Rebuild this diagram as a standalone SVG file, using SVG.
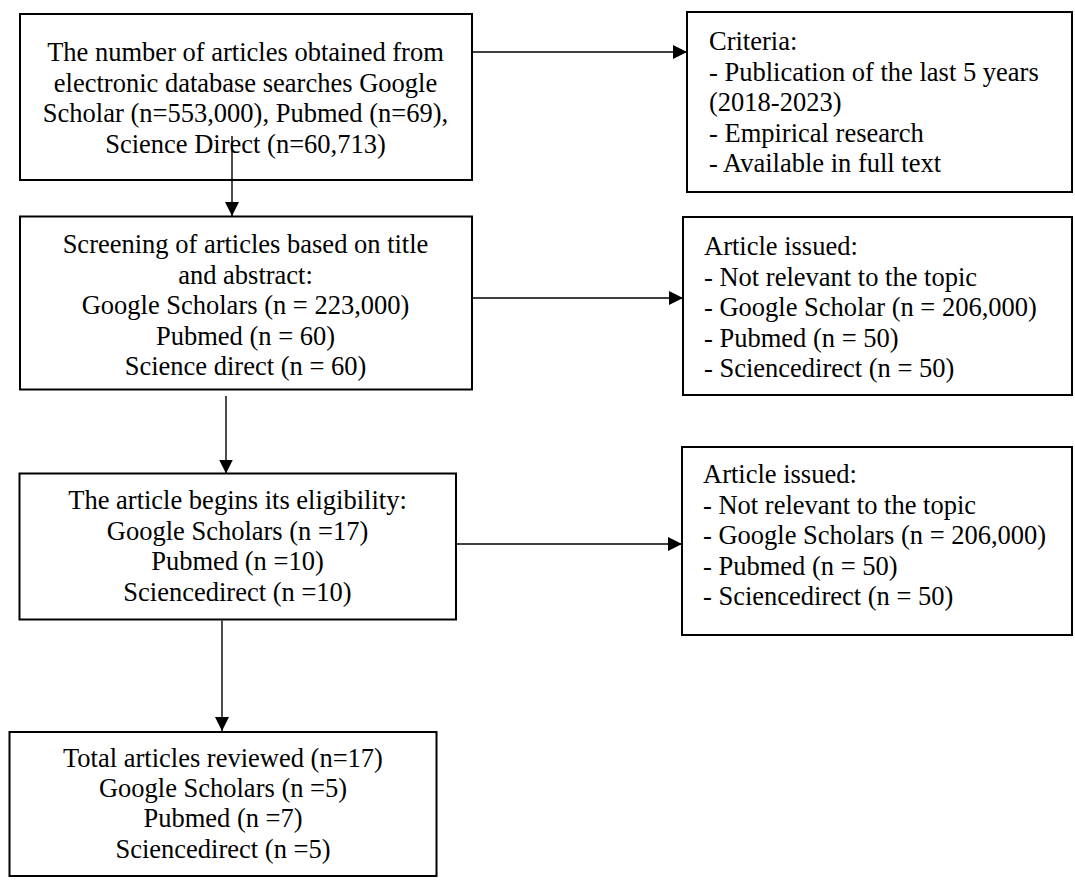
<svg xmlns="http://www.w3.org/2000/svg" width="1075" height="880" viewBox="0 0 1075 880">
<style>
.box{fill:#fff;stroke:#000;stroke-width:2}
.t{font-family:"Liberation Serif","Times New Roman",serif;font-size:26.5px;fill:#000}
.c{text-anchor:middle}
.ln{stroke:#000;stroke-width:1.4;fill:none;marker-end:url(#ah)}
</style>
<defs>
<marker id="ah" markerUnits="userSpaceOnUse" markerWidth="15" markerHeight="14" refX="14" refY="7" orient="auto">
<path d="M0,0 L14,7 L0,14 Z" fill="#000"/>
</marker>
</defs>
<rect width="1075" height="880" fill="#fff"/>
<g id="n1">
<rect class="box" x="20" y="14" width="452" height="166"/>
<text class="t c" x="245.5" y="61">The number of articles obtained from</text>
<text class="t c" x="245.5" y="91.5">electronic database searches Google</text>
<text class="t c" x="245.5" y="122">Scholar (n=553,000), Pubmed (n=69),</text>
<text class="t c" x="245.5" y="152.5">Science Direct (n=60,713)</text>
</g>
<g id="n2">
<rect class="box" x="687" y="12" width="385" height="180"/>
<text class="t" x="709" y="50">Criteria:</text>
<text class="t" x="709" y="80.5">- Publication of the last 5 years</text>
<text class="t" x="709" y="111">(2018-2023)</text>
<text class="t" x="709" y="141.5">- Empirical research</text>
<text class="t" x="709" y="172">- Available in full text</text>
</g>
<g id="n3">
<rect class="box" x="20" y="216.5" width="452" height="173"/>
<text class="t c" x="245.5" y="253">Screening of articles based on title</text>
<text class="t c" x="245.5" y="283.5">and abstract:</text>
<text class="t c" x="245.5" y="314">Google Scholars (n = 223,000)</text>
<text class="t c" x="245.5" y="344.5">Pubmed (n = 60)</text>
<text class="t c" x="245.5" y="375">Science direct (n = 60)</text>
</g>
<g id="n4">
<rect class="box" x="683" y="217" width="389" height="178"/>
<text class="t" x="704" y="255">Article issued:</text>
<text class="t" x="704" y="285.5">- Not relevant to the topic</text>
<text class="t" x="704" y="316">- Google Scholar (n = 206,000)</text>
<text class="t" x="704" y="346.5">- Pubmed (n = 50)</text>
<text class="t" x="704" y="377">- Sciencedirect (n = 50)</text>
</g>
<g id="n5">
<rect class="box" x="19.5" y="473.5" width="436.5" height="146"/>
<text class="t c" x="237.5" y="508.5">The article begins its eligibility:</text>
<text class="t c" x="237.5" y="539.5">Google Scholars (n =17)</text>
<text class="t c" x="237.5" y="570">Pubmed (n =10)</text>
<text class="t c" x="237.5" y="601">Sciencedirect (n =10)</text>
</g>
<g id="n6">
<rect class="box" x="682" y="447" width="390" height="188"/>
<text class="t" x="703" y="483">Article issued:</text>
<text class="t" x="703" y="513.5">- Not relevant to the topic</text>
<text class="t" x="703" y="544">- Google Scholars (n = 206,000)</text>
<text class="t" x="703" y="574.5">- Pubmed (n = 50)</text>
<text class="t" x="703" y="605">- Sciencedirect (n = 50)</text>
</g>
<g id="n7">
<rect class="box" x="9.5" y="732" width="427" height="144"/>
<text class="t c" x="223" y="766.5">Total articles reviewed (n=17)</text>
<text class="t c" x="223" y="797">Google Scholars (n =5)</text>
<text class="t c" x="223" y="827">Pubmed (n =7)</text>
<text class="t c" x="223" y="857.5">Sciencedirect (n =5)</text>
</g>
<g id="connectors">
<line class="ln" x1="473" y1="52" x2="687" y2="52"/>
<line class="ln" x1="232" y1="136" x2="232" y2="216"/>
<line class="ln" x1="473" y1="298" x2="683" y2="298"/>
<line class="ln" x1="226" y1="396" x2="226" y2="473.5"/>
<line class="ln" x1="457" y1="544" x2="682" y2="544"/>
<line class="ln" x1="222" y1="620.5" x2="222" y2="731"/>
</g>
</svg>
